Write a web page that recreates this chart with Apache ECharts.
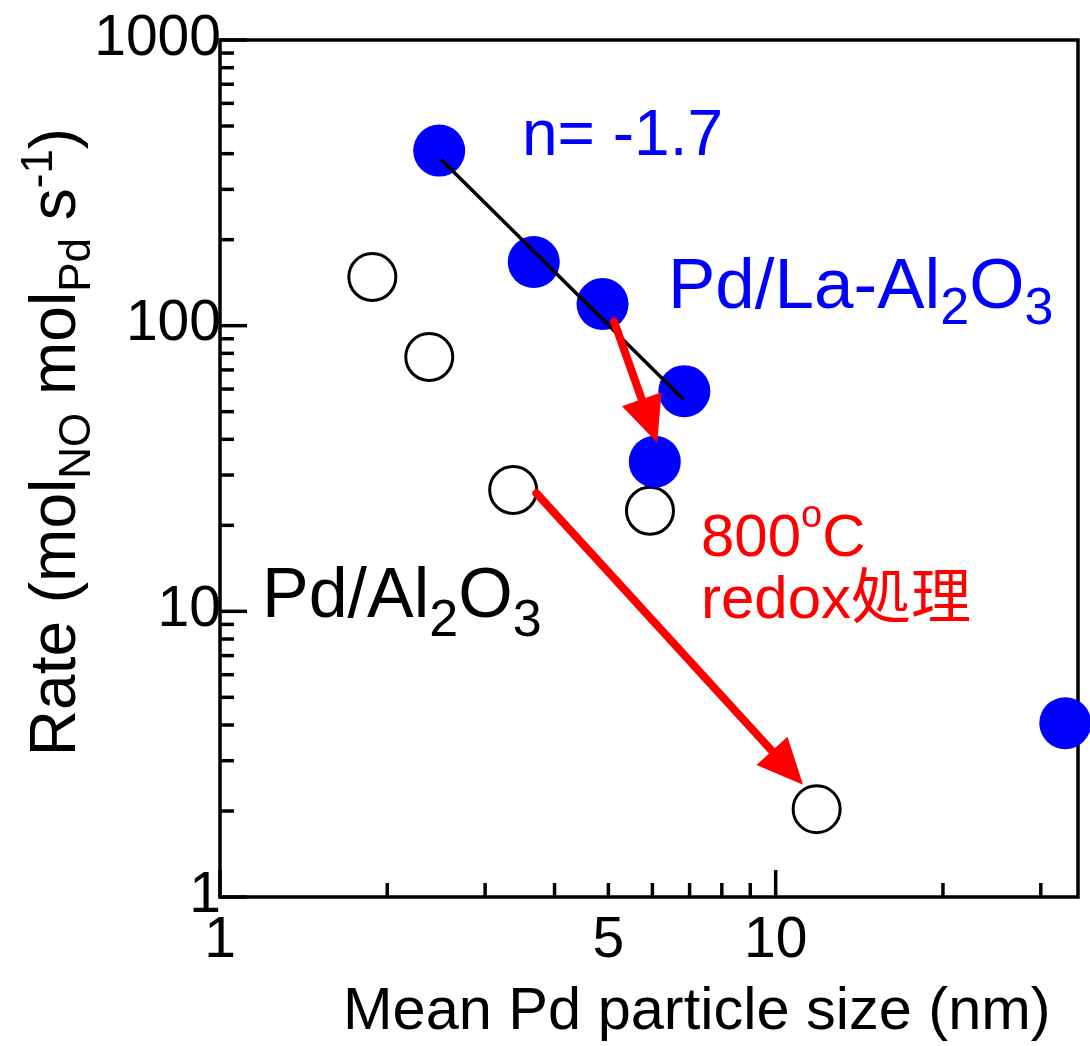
<!DOCTYPE html>
<html>
<head>
<meta charset="utf-8">
<script src="https://cdn.jsdelivr.net/npm/echarts@6/dist/echarts.min.js"></script>
<style>
  html, body { margin: 0; padding: 0; background: #fff; }
  #chart { width: 1090px; height: 1046px; }
</style>
</head>
<body>
<div id="chart"></div>
<script>
// Mean Pd particle size (nm) vs. NO reduction rate, log-log
const X_MIN = 1, X_MAX = 35;
const Y_MIN = 1, Y_MAX = 1000;

// Pd/La-Al2O3 (filled)
const laSize = [2.48, 3.67, 4.88, 6.85, 6.06, 33.2];
const laRate = [410, 167, 119, 59, 33.4, 4.06];

// Pd/Al2O3 (open)
const alSize = [1.88, 2.38, 3.37, 5.94, 11.85];
const alRate = [148, 77.7, 26.6, 22.5, 2.03];

// power-law fit through the La-Al2O3 points (n = -1.7)
const fitSize = [2.50, 6.81];
const fitRate = [382, 55.4];

// 800 oC redox treatment shifts: [size0, rate0, size1, rate1]
const shiftArrows = [
  [5.12, 103.3, 6.12, 38.95],
  [3.71, 25.9, 11.2, 2.47]
];

// axis ticks and labels
const xMajorTicks = [1, 10];
const xMinorTicks = [2, 3, 4, 5, 6, 7, 8, 9, 20, 30];
const xTickLabels = [1, 5, 10];
const yMajorTicks = [1, 10, 100, 1000];
const yMinorTicks = [2, 3, 4, 5, 6, 7, 8, 9, 20, 30, 40, 50, 60, 70, 80, 90,
                     200, 300, 400, 500, 600, 700, 800, 900];
const yTickLabels = [1, 10, 100, 1000];

const FONT = "'Liberation Sans', Arial, 'Noto Sans CJK JP', sans-serif";
const K = 0.3465; // distance from canvas 'middle' to the alphabetic baseline, in em
const AXIS_W = 3.5;

// rich-text styles for subscripts / superscripts on a single line
function scripts(F, f, drop, rise) {
  const L = 2 * F;
  const base = K * (F - f) + L / 2 - f / 2;
  return {
    lineHeight: L,
    rich: {
      sub: { fontSize: f, fontFamily: FONT, lineHeight: f, verticalAlign: 'top', padding: [base + drop, 0, 0, 0] },
      sup: { fontSize: f, fontFamily: FONT, lineHeight: f, verticalAlign: 'top', padding: [Math.max(0, base - rise), 0, 0, 0] }
    }
  };
}

// text element whose main baseline sits at (x, baseline)
function label(text, x, baseline, F, f, drop, rise, color, align) {
  const s = scripts(F, f, drop, rise);
  return {
    type: 'text',
    x: x,
    y: baseline - K * F,
    style: {
      text: text,
      fontSize: F,
      fontFamily: FONT,
      fill: color,
      lineHeight: s.lineHeight,
      rich: s.rich,
      align: align || 'left',
      verticalAlign: 'middle'
    },
    z: 10
  };
}

function tickSeries(values, axis, len) {
  return {
    type: 'custom',
    coordinateSystem: 'cartesian2d',
    silent: true,
    clip: false,
    z: 4,
    data: values.map(v => axis === 'x' ? [v, Y_MIN] : [X_MIN, v]),
    renderItem: (params, api) => {
      const p = api.coord([api.value(0), api.value(1)]);
      const shape = axis === 'x'
        ? { x1: p[0], y1: p[1], x2: p[0], y2: p[1] - len }
        : { x1: p[0], y1: p[1], x2: p[0] + len, y2: p[1] };
      return { type: 'line', shape: shape, style: { stroke: '#000', lineWidth: AXIS_W } };
    }
  };
}

function tickLabelSeries(values, axis) {
  return {
    type: 'custom',
    coordinateSystem: 'cartesian2d',
    silent: true,
    clip: false,
    z: 4,
    data: values.map(v => axis === 'x' ? [v, Y_MIN] : [X_MIN, v]),
    renderItem: (params, api) => {
      const p = api.coord([api.value(0), api.value(1)]);
      const v = axis === 'x' ? api.value(0) : api.value(1);
      return {
        type: 'text',
        style: axis === 'x'
          ? { text: String(Math.round(v)), x: p[0], y: p[1] + 44, align: 'center', verticalAlign: 'middle',
              fontSize: 57, fontFamily: FONT, fill: '#000' }
          : { text: String(Math.round(v)), x: p[0] + 1, y: p[1] - 1, align: 'right', verticalAlign: 'middle',
              fontSize: 57, fontFamily: FONT, fill: '#000' }
      };
    }
  };
}

const arrowSeries = {
  type: 'custom',
  coordinateSystem: 'cartesian2d',
  silent: true,
  clip: false,
  z: 6,
  encode: { x: [0, 2], y: [1, 3] },
  data: shiftArrows,
  renderItem: (params, api) => {
    const a = api.coord([api.value(0), api.value(1)]);
    const b = api.coord([api.value(2), api.value(3)]);
    const dx = b[0] - a[0], dy = b[1] - a[1];
    const len = Math.sqrt(dx * dx + dy * dy);
    const ux = dx / len, uy = dy / len;
    const headLen = 46, headHalf = 21;
    const bx = b[0] - ux * headLen, by = b[1] - uy * headLen;
    return {
      type: 'group',
      children: [
        { type: 'line', shape: { x1: a[0], y1: a[1], x2: bx + ux * 4, y2: by + uy * 4 },
          style: { stroke: '#ff0000', lineWidth: 8, lineCap: 'round' } },
        { type: 'polygon', shape: { points: [
            [b[0], b[1]],
            [bx - uy * headHalf, by + ux * headHalf],
            [bx + uy * headHalf, by - ux * headHalf]
          ] }, style: { fill: '#ff0000' } }
      ]
    };
  }
};

const yTitle = label('Rate (mol{sub|NO} mol{sub|Pd} s{sup|-1})', 57, 442 + K * 64, 64, 44, 14, 24, '#000', 'center');
yTitle.x = 57;
yTitle.y = 442;
yTitle.rotation = Math.PI / 2;

const chart = echarts.init(document.getElementById('chart'), null, { renderer: 'canvas' });

chart.setOption({
  animation: false,
  backgroundColor: '#fff',
  grid: {
    left: 220, top: 40, width: 858, height: 857,
    show: true, borderColor: '#000', borderWidth: AXIS_W, backgroundColor: 'transparent'
  },
  xAxis: {
    type: 'log', logBase: 10, min: X_MIN, max: X_MAX,
    axisLine: { show: false }, axisTick: { show: false },
    axisLabel: { show: false }, splitLine: { show: false }
  },
  yAxis: {
    type: 'log', logBase: 10, min: Y_MIN, max: Y_MAX,
    axisLine: { show: false }, axisTick: { show: false },
    axisLabel: { show: false }, splitLine: { show: false }
  },
  series: [
    tickSeries(xMajorTicks, 'x', 27),
    tickSeries(xMinorTicks, 'x', 14),
    tickSeries(yMajorTicks, 'y', 27),
    tickSeries(yMinorTicks, 'y', 14),
    tickLabelSeries(xTickLabels, 'x'),
    tickLabelSeries(yTickLabels, 'y'),
    {
      name: 'Pd/Al2O3',
      type: 'scatter',
      clip: false,
      z: 3,
      symbol: 'circle',
      symbolSize: 47,
      itemStyle: { color: '#fff', borderColor: '#000', borderWidth: 3, opacity: 1 },
      data: alSize.map((x, i) => [x, alRate[i]])
    },
    {
      name: 'Pd/La-Al2O3',
      type: 'scatter',
      clip: false,
      z: 3,
      symbol: 'circle',
      symbolSize: 52,
      itemStyle: { color: '#0000ff', opacity: 1 },
      data: laSize.map((x, i) => [x, laRate[i]])
    },
    {
      name: 'fit',
      type: 'line',
      z: 5,
      symbol: 'none',
      lineStyle: { color: '#000', width: 3.5, opacity: 1 },
      data: fitSize.map((x, i) => [x, fitRate[i]])
    },
    arrowSeries
  ],
  graphic: [
    label('n= -1.7', 522, 160, 64, 46, 0, 0, '#0000ff'),
    label('Pd/La-Al{sub|2}O{sub|3}', 668, 313, 71, 52, 15, 0, '#0000ff'),
    label('Pd/Al{sub|2}O{sub|3}', 262, 622, 70, 52, 18, 0, '#000'),
    label('800{sup|o}C', 701, 560, 60, 38, 0, 30, '#ff0000'),
    label('redox処理', 701, 622, 60, 40, 0, 0, '#ff0000'),
    label('Mean Pd particle size (nm)', 343, 1033, 59.5, 40, 0, 0, '#000'),
    yTitle
  ]
});
</script>
</body>
</html>
